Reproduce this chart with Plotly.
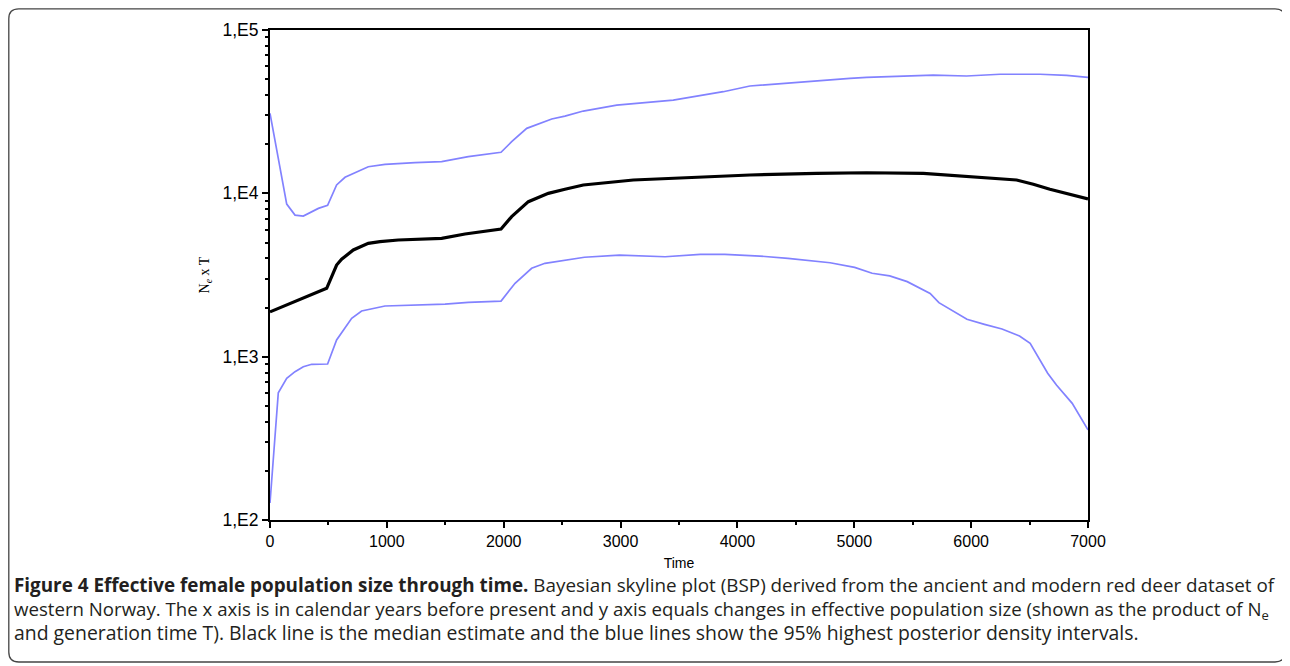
import plotly.graph_objects as go

# ---- data ----
upper_t = [0, 143, 214, 285, 414, 493, 570, 642, 841, 984, 1241, 1469, 1697, 1840, 1977,
           2068, 2197, 2411, 2524, 2681, 2967, 3451, 3879, 4107, 4392, 4678, 4963, 5106,
           5676, 5961, 6247, 6589, 6817, 7000]
upper_v = [30900, 8600, 7360, 7260, 8090, 8450, 11250, 12540, 14550, 15060, 15400, 15630,
           16770, 17340, 17830, 20700, 25000, 28500, 29700, 31900, 34700, 37200, 41900,
           45400, 47200, 49000, 50600, 51300, 53000, 52300, 53600, 53600, 52800, 51300]

median_t = [0, 485, 570, 613, 713, 841, 941, 1098, 1469, 1669, 1977, 2068, 2211, 2382,
            2524, 2681, 3109, 3537, 4107, 4678, 5106, 5591, 5961, 6389, 6532, 6674, 7000]
median_v = [1880, 2620, 3640, 3950, 4500, 4940, 5060, 5180, 5300, 5640, 6050, 7200, 8890,
            10000, 10590, 11250, 12070, 12480, 12950, 13260, 13370, 13260, 12650, 12070,
            11360, 10590, 9230]

lower_t = [0, 71, 143, 214, 285, 357, 493, 570, 699, 784, 984, 1498, 1697, 1977, 2097,
           2239, 2353, 2524, 2691, 2991, 3381, 3682, 3892, 4192, 4432, 4793, 5003, 5153,
           5303, 5453, 5649, 5724, 5964, 6114, 6264, 6414, 6505, 6655, 6730, 6865, 7000]
lower_v = [127, 601, 737, 809, 868, 898, 902, 1265, 1718, 1905, 2043, 2100, 2150, 2190,
           2815, 3475, 3730, 3910, 4060, 4190, 4090, 4230, 4230, 4130, 4000, 3760, 3520,
           3240, 3120, 2880, 2440, 2140, 1693, 1578, 1476, 1339, 1208, 791, 671, 518, 356]

x_ticks = [0, 1000, 2000, 3000, 4000, 5000, 6000, 7000]
x_minor = [500, 1500, 2500, 3500, 4500, 5500, 6500]
y_ticks = [100, 1000, 10000, 100000]
y_ticktext = ["1,E2", "1,E3", "1,E4", "1,E5"]

caption_lines = [
    "<b>Figure 4 Effective female population size through time.</b> Bayesian skyline plot (BSP) derived from the ancient and modern red deer dataset of",
    "western Norway. The x axis is in calendar years before present and y axis equals changes in effective population size (shown as the product of N<sub>e</sub>",
    "and generation time T). Black line is the median estimate and the blue lines show the 95% highest posterior density intervals.",
]
caption_sizes = [18.85, 18.65, 19.4]

# ---- layout geometry (pixels, in the reference's frame; page body adds 8px) ----
OFF = 8
W, H = 1290 - OFF, 666 - OFF
L, R, T, B = 270 - OFF, 1088 - OFF, 30 - OFF, 520 - OFF
pw, ph = R - L, B - T


def px(x):
    return (x - OFF - L) / pw


def py(y):
    return (B - (y - OFF)) / ph


blue = "#8282ff"

fig = go.Figure()
fig.add_trace(go.Scatter(x=upper_t, y=upper_v, mode="lines",
                         line=dict(color=blue, width=1.7), hoverinfo="skip"))
fig.add_trace(go.Scatter(x=lower_t, y=lower_v, mode="lines",
                         line=dict(color=blue, width=1.7), hoverinfo="skip"))
fig.add_trace(go.Scatter(x=median_t, y=median_v, mode="lines",
                         line=dict(color="black", width=3.2), hoverinfo="skip"))

fig.update_xaxes(range=[0, 7000], showgrid=False, zeroline=False,
                 showline=True, linecolor="black", linewidth=2, mirror=True,
                 ticks="outside", ticklen=6, tickwidth=2, tickcolor="black",
                 tickvals=x_ticks,
                 tickfont=dict(family="Liberation Sans, Arial", size=16, color="black"),
                 minor=dict(ticks="outside", ticklen=3, tickwidth=2, tickcolor="black",
                            tickvals=x_minor),
                 title=dict(text="Time",
                            font=dict(family="Liberation Sans, Arial", size=14, color="black"),
                            standoff=9))

minor_y = [m * 10 ** e for e in range(2, 5) for m in range(2, 10)]
fig.update_yaxes(type="log", range=[2, 5], showgrid=False, zeroline=False,
                 showline=True, linecolor="black", linewidth=2, mirror=True,
                 ticks="outside", ticklen=6, tickwidth=2, tickcolor="black",
                 tickvals=y_ticks, ticktext=y_ticktext,
                 tickfont=dict(family="Liberation Sans, Arial", size=17.5, color="black"),
                 minor=dict(ticks="outside", ticklen=3, tickwidth=2, tickcolor="black",
                            tickvals=minor_y),
                 title=dict(text="N<sub><i>e</i></sub> x T",
                            font=dict(family="Liberation Serif, Times New Roman", size=14, color="black"),
                            standoff=10))

caption_text = "<br>".join(
    f'<span style="font-size:{s}px">{t}</span>' for t, s in zip(caption_lines, caption_sizes))
annotations = [dict(
    text=caption_text, xref="paper", yref="paper", x=px(11.5), y=py(570),
    xanchor="left", yanchor="top", align="left", showarrow=False,
    font=dict(family="Open Sans", size=18.5, color="#231f20"))]

# rounded frame around the whole figure
x0, x1, y0, y1 = px(8.8), px(1285), py(662), py(8.8)
rx, ry = 10 / pw, 10 / ph
path = (f"M {x0+rx},{y1} L {x1-rx},{y1} Q {x1},{y1} {x1},{y1-ry} "
        f"L {x1},{y0+ry} Q {x1},{y0} {x1-rx},{y0} L {x0+rx},{y0} "
        f"Q {x0},{y0} {x0},{y0+ry} L {x0},{y1-ry} Q {x0},{y1} {x0+rx},{y1} Z")
shapes = [dict(type="path", xref="paper", yref="paper", path=path,
               line=dict(color="#444444", width=1.3))]

fig.update_layout(width=W, height=H, margin=dict(l=L, r=W - R, t=T, b=H - B),
                  paper_bgcolor="white", plot_bgcolor="white", showlegend=False,
                  annotations=annotations, shapes=shapes)

fig.write_html("out.html")
